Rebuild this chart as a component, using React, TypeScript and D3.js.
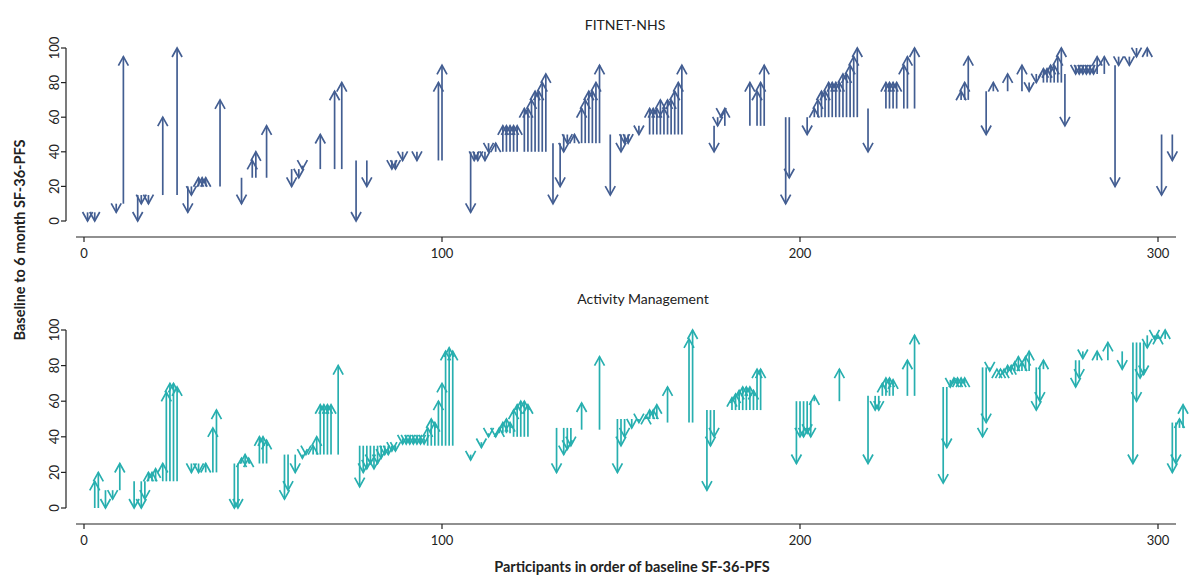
import React from "react";
import * as d3 from "d3";

// FITNET-NHS participants: position in baseline order, baseline and 6-month SF-36-PFS
const fitnetIndex = [1,3,9,11,15,16,18,22,26,29,30,32,33,34,38,44,47,48,51,58,60,61,66,70,72,76,79,86,87,89,93,99,100,108,109,110,112,113,115,117,118,119,120,121,123,124,125,126,127,128,129,131,133,134,135,137,139,140,141,142,143,144,147,150,151,152,155,158,159,160,161,162,163,164,165,166,167,176,177,178,179,186,188,189,190,196,197,202,204,205,206,207,208,209,210,211,212,213,214,215,216,219,224,225,226,227,229,230,232,245,246,247,252,254,258,262,264,266,268,269,270,271,272,273,274,277,278,279,280,281,282,283,285,288,289,292,294,297,301,304];
const fitnetBaseline = [5,5,10,10,15,15,15,15,15,20,20,20,20,20,20,25,25,25,25,30,30,32,30,30,30,35,35,35,35,40,40,35,35,40,40,40,40,45,40,40,40,40,40,40,40,40,40,40,40,40,40,45,45,50,50,45,45,45,45,45,45,45,50,50,50,50,55,50,50,50,50,50,50,50,50,50,50,55,60,60,55,55,55,55,55,60,60,60,60,60,60,60,60,60,60,60,60,60,60,60,60,65,65,65,65,65,65,65,65,70,70,70,75,75,75,75,80,85,80,80,80,80,80,80,85,90,90,90,90,90,90,85,85,90,95,95,100,95,50,50];
const fitnetSixMonth = [0,0,5,95,0,10,10,60,100,5,15,25,25,25,70,10,35,40,55,20,25,30,50,75,80,0,20,30,30,35,35,80,90,5,35,35,35,40,45,55,55,55,55,55,65,65,70,75,75,80,85,10,20,40,45,50,65,70,75,75,80,90,15,40,45,45,50,65,65,65,70,65,70,70,75,80,90,40,55,60,65,80,75,80,90,10,25,50,65,70,75,75,80,80,80,80,85,85,90,95,100,40,80,80,80,80,90,95,100,75,80,95,50,80,85,90,75,80,88,88,90,90,95,100,55,85,85,85,85,85,85,95,95,20,90,90,95,100,15,35];

// Activity Management participants
const amIndex = [3,4,6,8,10,14,16,17,18,19,20,22,23,24,25,26,30,32,34,36,37,42,43,44,45,46,49,50,51,56,57,59,61,62,64,65,66,67,68,69,71,77,78,79,80,81,82,83,84,85,86,87,89,90,91,92,93,94,95,96,97,98,99,100,101,102,103,108,111,113,115,116,117,118,119,120,121,122,123,124,132,134,135,136,139,144,149,150,151,153,155,157,158,159,160,163,169,170,174,175,176,181,182,183,184,185,186,187,188,189,199,200,201,202,203,204,211,219,221,222,223,224,225,226,230,232,240,241,242,243,244,245,246,251,252,253,255,256,257,258,259,260,261,262,263,264,266,267,268,277,278,279,283,286,290,293,294,295,296,297,299,300,302,304,305,306,307];
const amBaseline = [0,0,10,10,10,15,15,15,15,15,15,15,15,15,15,15,25,25,20,20,20,25,25,25,25,25,25,25,25,30,30,30,30,30,30,30,30,30,30,30,30,35,35,35,35,35,35,35,35,35,35,35,39,39,39,39,39,39,39,35,35,35,35,35,35,35,35,30,37,42,42,42,42,42,42,40,40,40,40,40,45,45,45,45,44,44,50,50,50,50,50,50,50,50,50,48,48,48,55,55,55,55,55,55,55,55,55,55,55,55,60,60,60,60,60,60,60,63,63,63,63,63,63,63,63,63,68,68,72,70,70,70,70,79,79,79,77,77,77,77,77,77,77,77,77,77,79,79,78,83,83,88,83,83,88,93,93,93,93,97,97,95,95,48,48,45,45];
const amSixMonth = [15,20,0,5,25,0,0,5,20,20,22,25,65,70,70,68,20,20,25,45,55,0,0,28,30,28,40,40,38,5,10,20,28,30,35,40,58,58,58,58,80,12,20,22,25,22,25,28,30,30,32,32,36,36,36,36,36,36,36,45,50,48,60,70,88,90,88,27,34,40,40,45,48,50,48,55,58,60,60,58,20,30,33,35,59,85,20,35,40,45,48,52,55,55,58,68,95,100,10,35,40,62,64,66,68,68,68,66,78,78,25,40,40,42,40,63,78,25,55,55,70,73,73,72,83,97,14,34,68,73,73,73,73,40,48,77,78,78,78,80,80,82,85,82,85,88,55,60,83,68,73,84,88,93,78,25,60,73,75,90,95,97,100,20,25,50,58];

const xTicks = [0, 100, 200, 300];
const yTicks = [0, 20, 40, 60, 80, 100];

const FONT = "Lato, 'Open Sans', sans-serif";

const x = d3.scaleLinear().domain([0, 300]).range([84, 1158]);

type PanelProps = {
  title: string;
  titleX: number;
  titleY: number;
  idx: number[];
  base: number[];
  six: number[];
  color: string;
  yTop: number;
  yBottom: number;
  axisY: number;
};

function Panel({ title, titleX, titleY, idx, base, six, color, yTop, yBottom, axisY }: PanelProps) {
  const y = d3.scaleLinear().domain([0, 100]).range([yBottom, yTop]);
  const head = 9;
  const half = 5;
  const axisX = 66;
  return (
    <g>
      <text x={titleX} y={titleY} textAnchor="middle" fontSize={14} fontFamily={FONT} fill="#222">
        {title}
      </text>
      {idx.map((p, k) => {
        const px = x(p);
        const y0 = y(base[k]);
        const y1 = y(six[k]);
        const dir = y1 < y0 ? 1 : -1; // arms go back toward the baseline end
        return (
          <g key={k} stroke={color} strokeWidth={1.7} fill="none">
            <line x1={px} x2={px} y1={y0} y2={y1} />
            <polyline
              points={`${px - half},${y1 + dir * head} ${px},${y1} ${px + half},${y1 + dir * head}`}
              strokeLinejoin="miter"
            />
          </g>
        );
      })}
      {/* y axis */}
      <line x1={axisX} x2={axisX} y1={y(0)} y2={y(100)} stroke="#222" strokeWidth={1.2} />
      {yTicks.map((t) => (
        <g key={t}>
          <line x1={axisX - 5} x2={axisX} y1={y(t)} y2={y(t)} stroke="#222" strokeWidth={1.2} />
          <text
            transform={`translate(${axisX - 7},${y(t)}) rotate(-90)`}
            textAnchor="middle"
            fontSize={13}
            fontFamily={FONT}
            fill="#222"
          >
            {t}
          </text>
        </g>
      ))}
      {/* x axis */}
      <line x1={76} x2={1176} y1={axisY} y2={axisY} stroke="#222" strokeWidth={1.2} />
      {xTicks.map((t) => (
        <g key={t}>
          <line x1={x(t)} x2={x(t)} y1={axisY} y2={axisY + 5} stroke="#222" strokeWidth={1.2} />
          <text x={x(t)} y={axisY + 21} textAnchor="middle" fontSize={13} fontFamily={FONT} fill="#222">
            {t}
          </text>
        </g>
      ))}
    </g>
  );
}

export default function App() {
  return (
    <svg
      width={1200}
      height={576}
      style={{ position: "absolute", left: 0, top: 0, background: "#fff" }}
    >
      <rect width={1200} height={576} fill="#fff" />
      <Panel
        title="FITNET-NHS"
        titleX={625}
        titleY={30}
        idx={fitnetIndex}
        base={fitnetBaseline}
        six={fitnetSixMonth}
        color="#435e92"
        yTop={48}
        yBottom={221}
        axisY={237}
      />
      <Panel
        title="Activity Management"
        titleX={643}
        titleY={304}
        idx={amIndex}
        base={amBaseline}
        six={amSixMonth}
        color="#27afaf"
        yTop={330}
        yBottom={508}
        axisY={524}
      />
      <text
        transform="translate(25,240) rotate(-90)"
        textAnchor="middle"
        fontSize={14.5}
        fontWeight="bold"
        fontFamily={FONT}
        fill="#222"
      >
        Baseline to 6 month SF-36-PFS
      </text>
      <text x={632} y={572} textAnchor="middle" fontSize={14.5} fontWeight="bold" fontFamily={FONT} fill="#222">
        Participants in order of baseline SF-36-PFS
      </text>
    </svg>
  );
}
